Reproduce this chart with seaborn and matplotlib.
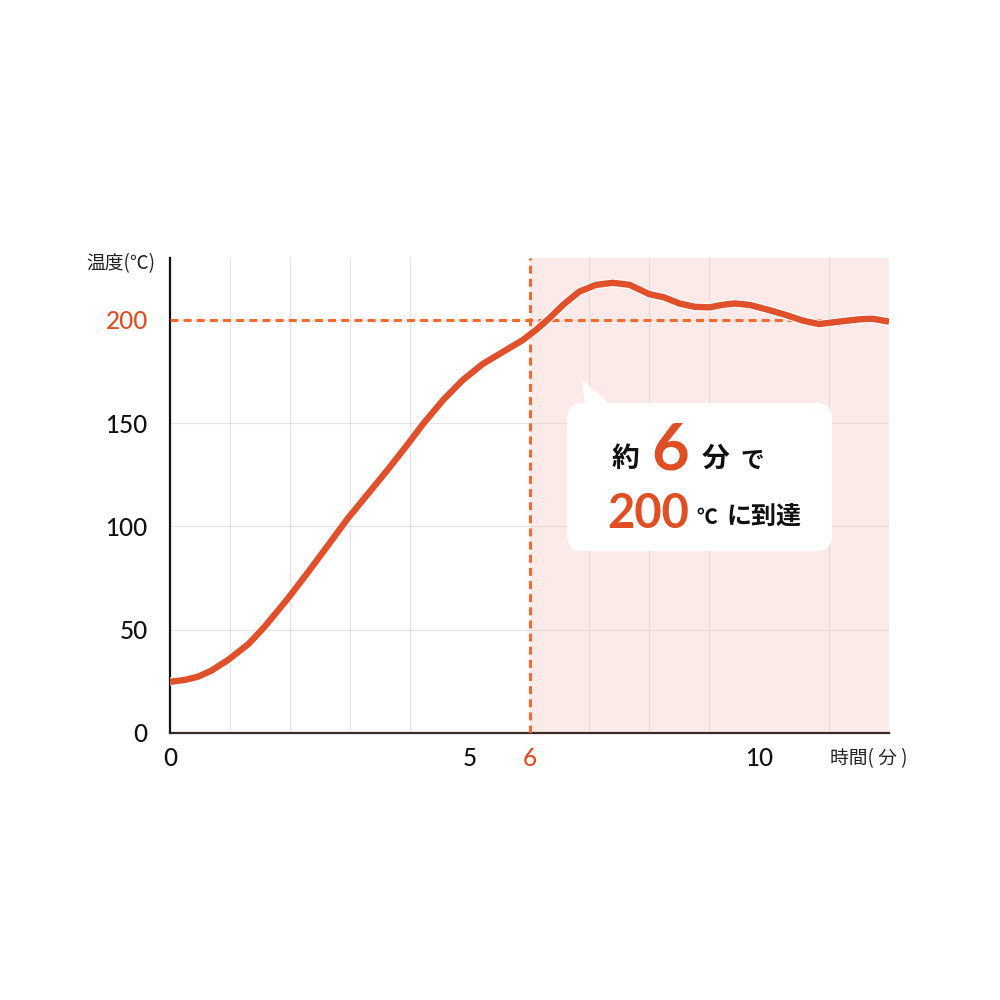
"""Temperature rise curve: reaches 200°C in about 6 minutes."""

import matplotlib
matplotlib.use('Agg')
import matplotlib.pyplot as plt
import matplotlib.patheffects as pe
import matplotlib.transforms as mtransforms
from matplotlib.patches import FancyBboxPatch, Polygon
import seaborn as sns

# values
time_min = [0, 0.25, 0.47, 0.69, 0.97, 1.31, 1.58, 1.97, 2.31, 2.64, 2.97,
            3.31, 3.64, 3.94, 4.22, 4.56, 4.89, 5.22, 5.56, 5.89, 6.11, 6.33,
            6.56, 6.83, 7.11, 7.39, 7.67, 8, 8.25, 8.5, 8.75, 9, 9.22, 9.42,
            9.67, 10, 10.28, 10.56, 10.83, 11.17, 11.5, 11.72, 12]
temp_c = [24.8, 25.7, 27.3, 30.2, 35.4, 43.1, 51.5, 65.2, 78.1, 91, 104,
          116, 127.7, 138.8, 149.5, 161.3, 171, 178.7, 184.6, 190.3, 195.2,
          200.8, 207.3, 213.7, 217, 218, 217, 212.5, 210.9, 208, 206.4, 206.1,
          207.3, 208, 207.3, 204.8, 202.4, 199.7, 198, 199.2, 200.3, 200.6,
          199.2]
x_ticks = [0, 5, 6, 10]
y_ticks = [0, 50, 100, 150, 200]
target_time = 6
target_temp = 200
x_max = 12
y_max = 230

LINE = '#e0502a'
DASH = '#f26a2e'
ACCENT = '#e04e25'
SHADE = '#fbeae8'

sns.set_theme(style='white')
plt.rcParams['font.family'] = ['Lato', 'Noto Sans CJK JP', 'DejaVu Sans']
JP = ['Noto Sans CJK JP', 'DejaVu Sans']

fig = plt.figure(figsize=(10, 10), dpi=100)
ax = fig.add_axes([0.17, 0.267, 0.719, 0.475])
ax.set_facecolor('white')

ax.axvspan(target_time, x_max, color=SHADE, zorder=0, lw=0)

sns.lineplot(x=time_min, y=temp_c, ax=ax, color=LINE, lw=4.6, zorder=5,
             solid_joinstyle='round', solid_capstyle='butt',
             path_effects=[pe.Stroke(linewidth=6.2, foreground='white'),
                           pe.Normal()])

ax.axhline(target_temp, color=DASH, lw=2.2, dashes=(2.6, 1.7), zorder=4)
ax.axvline(target_time, color=DASH, lw=2.2, dashes=(2.6, 1.7), zorder=4)

ax.set_xlim(0, x_max)
ax.set_ylim(0, y_max)
ax.set_xticks(x_ticks)
ax.set_xticks(range(0, x_max + 1), minor=True)
ax.set_yticks(y_ticks)
ax.set_xlabel('')
ax.set_ylabel('')

ax.set_axisbelow(True)
ax.grid(False)
ax.grid(True, axis='x', which='minor', color='#d9d0d0', lw=0.8, alpha=0.6)
ax.grid(True, axis='y', which='major', color='#d9d0d0', lw=0.8, alpha=0.6)
ax.tick_params(axis='both', which='both', length=0)
ax.tick_params(axis='x', pad=10, labelsize=17.5)
ax.tick_params(axis='y', pad=16, labelsize=17.5)
for lab in ax.get_xticklabels() + ax.get_yticklabels():
    lab.set_fontweight('medium')
    lab.set_color('#111111')
ax.get_xticklabels()[x_ticks.index(target_time)].set_color(ACCENT)
ax.get_yticklabels()[y_ticks.index(target_temp)].set_color(ACCENT)
# the "10" label sits a little left of its gridline in the original
shift = mtransforms.ScaledTranslation(-0.1, 0, fig.dpi_scale_trans)
lab10 = ax.get_xticklabels()[x_ticks.index(10)]
lab10.set_transform(lab10.get_transform() + shift)

for side in ('top', 'right'):
    ax.spines[side].set_visible(False)
ax.spines['left'].set_color('#111111')
ax.spines['left'].set_linewidth(1.6)
ax.spines['bottom'].set_color('#3a2a28')
ax.spines['bottom'].set_linewidth(1.6)

# axis titles
ax.text(-0.116, 0.989, '温度(℃)', transform=ax.transAxes, family=JP,
        fontsize=13.5, ha='left', va='center', color='#222222')
ax.text(0.918, -0.055, '時間( 分 )', transform=ax.transAxes, family=JP,
        fontsize=13.5, ha='left', va='center', color='#222222')


def px(x, y):
    """image pixel -> axes fraction"""
    return (x - 170) / 719, (733 - y) / 475


# speech bubble
bx, by = px(567, 551)
bubble = FancyBboxPatch((bx, by), 265 / 719, 148 / 475,
                        boxstyle='round,pad=0,rounding_size=0.022',
                        mutation_aspect=719 / 475, transform=ax.transAxes,
                        facecolor='white', edgecolor='none', zorder=6)
ax.add_patch(bubble)
tip = Polygon([px(582, 380), px(585, 406), px(612, 406)], closed=True,
              transform=ax.transAxes, facecolor='white', edgecolor='none',
              zorder=6)
ax.add_patch(tip)

txt = dict(transform=ax.transAxes, zorder=7, fontweight='bold',
           va='center', ha='center')
ax.text(*px(625, 459), '約', family=JP, fontsize=20, color='#111111', **txt)
ax.text(*px(670, 451), '6', fontsize=47, color=ACCENT, **txt)
ax.text(*px(716, 459), '分', family=JP, fontsize=20, color='#111111', **txt)
ax.text(*px(752, 461), 'で', family=JP, fontsize=17, color='#111111', **txt)
ax.text(*px(648, 514), '200', fontsize=34, color=ACCENT, **txt)
ax.text(*px(707, 517), '℃', family=JP, fontsize=15, color='#111111', **txt)
ax.text(*px(764, 518), 'に到達', family=JP, fontsize=18, color='#111111',
        **txt)

fig.savefig('out.png', dpi=100, facecolor='white')
plt.close(fig)
